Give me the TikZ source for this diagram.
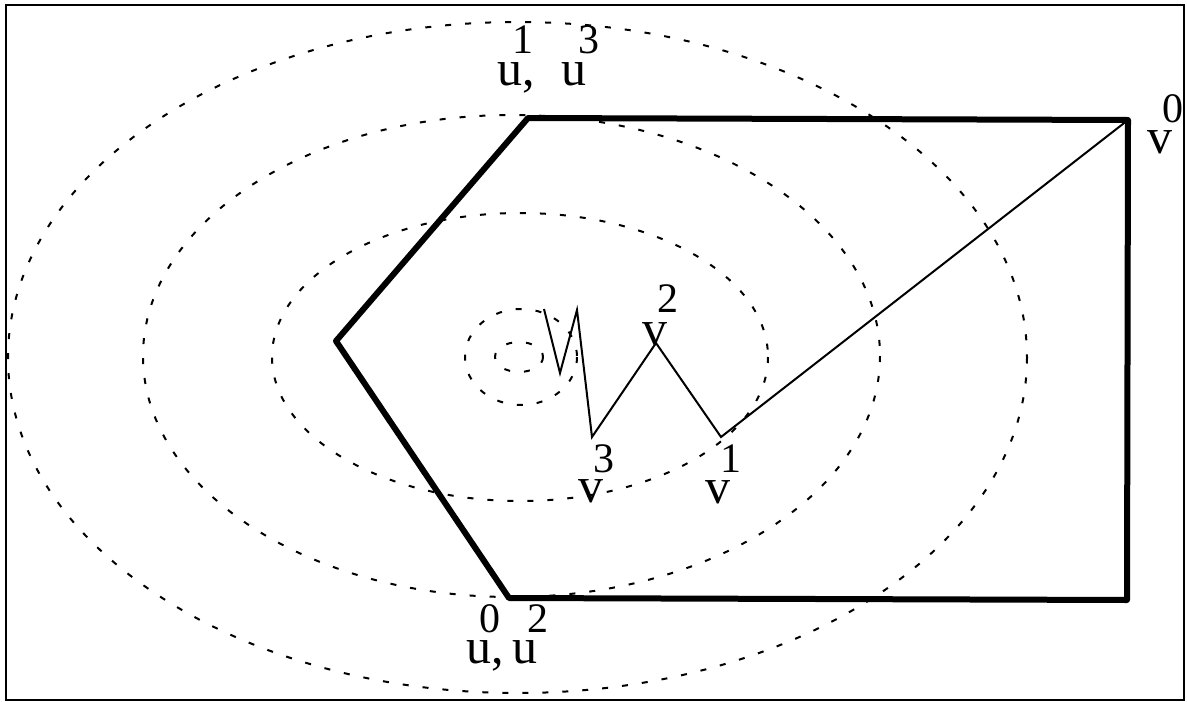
\documentclass[tikz,border=0pt]{standalone}
\usepackage{fontspec}
\setmainfont{Liberation Serif}
\begin{document}
\begin{tikzpicture}[x=1pt,y=-1pt,
  ell/.style={draw=black,line width=2pt,dash pattern=on 6pt off 14pt},
  bound/.style={draw=black,line width=6pt,line join=round},
  path/.style={draw=black,line width=2pt,line join=miter},
  frame/.style={draw=black,line width=2pt},
  letter/.style={inner sep=0pt,anchor=base,font=\fontsize{50}{50}\selectfont},
  digit/.style={inner sep=0pt,anchor=base,font=\fontsize{42}{42}\selectfont}]
\useasboundingbox (0,0) rectangle (1187,702);
\draw[frame] (6,5) rectangle (1184,700);
% level sets
\draw[ell] (519,357) ellipse [x radius=24,y radius=15];
\draw[ell] (521,357) ellipse [x radius=56,y radius=48];
\draw[ell] (520,357) ellipse [x radius=248,y radius=144];
\draw[ell] (511.5,356) ellipse [x radius=368.5,y radius=241];
\draw[ell] (517.5,357.5) ellipse [x radius=509.5,y radius=335.5];
% polygon
\coordinate (p1) at (528,118);
\coordinate (p2) at (1128,120);
\coordinate (p3) at (1127,600);
\coordinate (p4) at (509,598);
\coordinate (p5) at (336,341);
\draw[bound] (p1) -- (p2) -- (p3) -- (p4) -- (p5) -- cycle;
% iterates
\coordinate (z0) at (544,309);
\coordinate (z1) at (560,373);
\coordinate (z2) at (577,310);
\coordinate (pv3) at (592,437);
\coordinate (pv2) at (656,343);
\coordinate (pv1) at (721,437);
\draw[path] (z0) -- (z1) -- (z2) -- (pv3) -- (pv2) -- (pv1) -- (p2);
% labels
\node[letter,anchor=base west] (uA) at (497,85) {u,};
\node[letter] (uB) at (573.5,85) {u};
\node[digit] (s1) at (522.5,53) {1};
\node[digit] (s3) at (588.5,53) {3};
\node[letter,anchor=base west] (uC) at (466,663) {u,};
\node[letter] (uD) at (525,663) {u};
\node[digit] (s0) at (490,632) {0};
\node[digit] (s2) at (537.5,632) {2};
\node[letter] (v0) at (1159.5,153) {v};
\node[digit] (v0s) at (1173,122) {0};
\node[letter] (v1) at (718,503) {v};
\node[digit] (v1s) at (731,472) {1};
\node[letter] (v2) at (655,345) {v};
\node[digit] (v2s) at (668,312) {2};
\node[letter] (v3) at (590.5,502) {v};
\node[digit] (v3s) at (603.5,472) {3};
\end{tikzpicture}
\end{document}
